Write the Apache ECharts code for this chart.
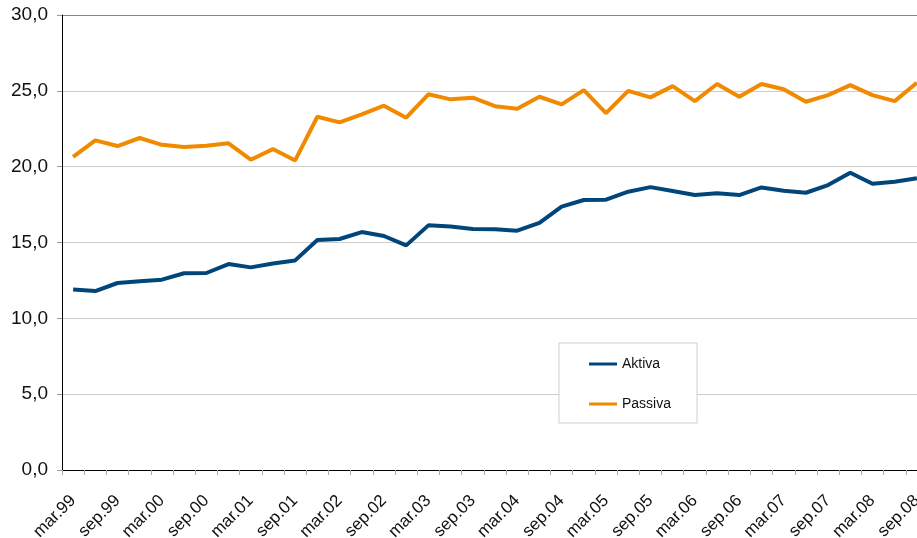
<!DOCTYPE html>
<html>
<head>
<meta charset="utf-8">
<script src="https://cdn.jsdelivr.net/npm/echarts@6/dist/echarts.min.js"></script>
<style>
  html, body { margin: 0; padding: 0; background: #fff; overflow: hidden; }
  /* the chart runs past the right edge of the window, like the reference */
  #chart { width: 928px; height: 538px; }
</style>
</head>
<body>
<div id="chart"></div>
<script>
// quarterly data, mar.99 .. sep.08
const years = ['99', '00', '01', '02', '03', '04', '05', '06', '07', '08']
const months = ['mar', 'jun', 'sep', 'des']
const quarters = []
years.forEach(y => months.forEach(m => quarters.push(m + '.' + y)))
quarters.splice(39) // ends at sep.08

const aktiva = [
  11.9, 11.8, 12.33, 12.44, 12.55, 12.97, 12.99, 13.58, 13.36, 13.62,
  13.82, 15.16, 15.23, 15.69, 15.43, 14.81, 16.13, 16.06, 15.89, 15.87,
  15.78, 16.3, 17.36, 17.8, 17.82, 18.35, 18.65, 18.4, 18.13, 18.24,
  18.13, 18.63, 18.41, 18.28, 18.79, 19.6, 18.87, 19.0, 19.23
]
const passiva = [
  20.65, 21.73, 21.36, 21.89, 21.44, 21.29, 21.38, 21.54, 20.46, 21.16,
  20.41, 23.29, 22.92, 23.45, 24.02, 23.23, 24.77, 24.44, 24.55, 23.99,
  23.82, 24.61, 24.11, 25.05, 23.53, 25.0, 24.57, 25.31, 24.32, 25.45,
  24.61, 25.45, 25.1, 24.28, 24.72, 25.38, 24.72, 24.32, 25.53
]

const font = '"Liberation Sans", Arial, sans-serif'
const chart = echarts.init(document.getElementById('chart'), null, { renderer: 'canvas' })

chart.setOption({
  backgroundColor: '#fff',
  animation: false,
  textStyle: { fontFamily: font },
  grid: { left: 62, top: 15, right: 0, height: 455, outerBoundsMode: 'none' },
  legend: {
    orient: 'vertical',
    left: 559,
    top: 343,
    padding: [14, 26, 12, 30],
    itemGap: 26,
    itemWidth: 28,
    itemHeight: 3,
    icon: 'rect',
    backgroundColor: '#fff',
    borderColor: '#cfcfcf',
    borderWidth: 1,
    textStyle: { fontSize: 14, color: '#111', fontFamily: font },
    data: ['Aktiva', 'Passiva']
  },
  xAxis: {
    type: 'category',
    data: quarters,
    boundaryGap: true,
    axisLine: { lineStyle: { color: '#000', width: 1 } },
    axisTick: { show: true, interval: 0, length: 5, lineStyle: { color: '#aaa' } },
    axisLabel: {
      interval: 1,
      rotate: 45,
      margin: 28,
      fontSize: 17,
      color: '#111',
      fontFamily: font
    },
    splitLine: { show: false }
  },
  yAxis: {
    type: 'value',
    min: 0,
    max: 30,
    interval: 5,
    axisLine: { show: true, lineStyle: { color: '#000', width: 1 } },
    axisTick: { show: true, length: 5, lineStyle: { color: '#999' } },
    axisLabel: {
      margin: 14,
      fontSize: 19,
      color: '#111',
      fontFamily: font,
      formatter: v => v.toFixed(1).replace('.', ',')
    },
    splitLine: {
      lineStyle: {
        color: ['#ccc', '#ccc', '#ccc', '#ccc', '#ccc', '#ccc', '#888'],
        width: 1
      }
    }
  },
  series: [
    {
      name: 'Aktiva',
      type: 'line',
      data: aktiva,
      symbol: 'none',
      color: '#00467b',
      lineStyle: { width: 4, color: '#00467b' }
    },
    {
      name: 'Passiva',
      type: 'line',
      data: passiva,
      symbol: 'none',
      color: '#f08a00',
      lineStyle: { width: 4, color: '#f08a00' }
    }
  ]
})
</script>
</body>
</html>
